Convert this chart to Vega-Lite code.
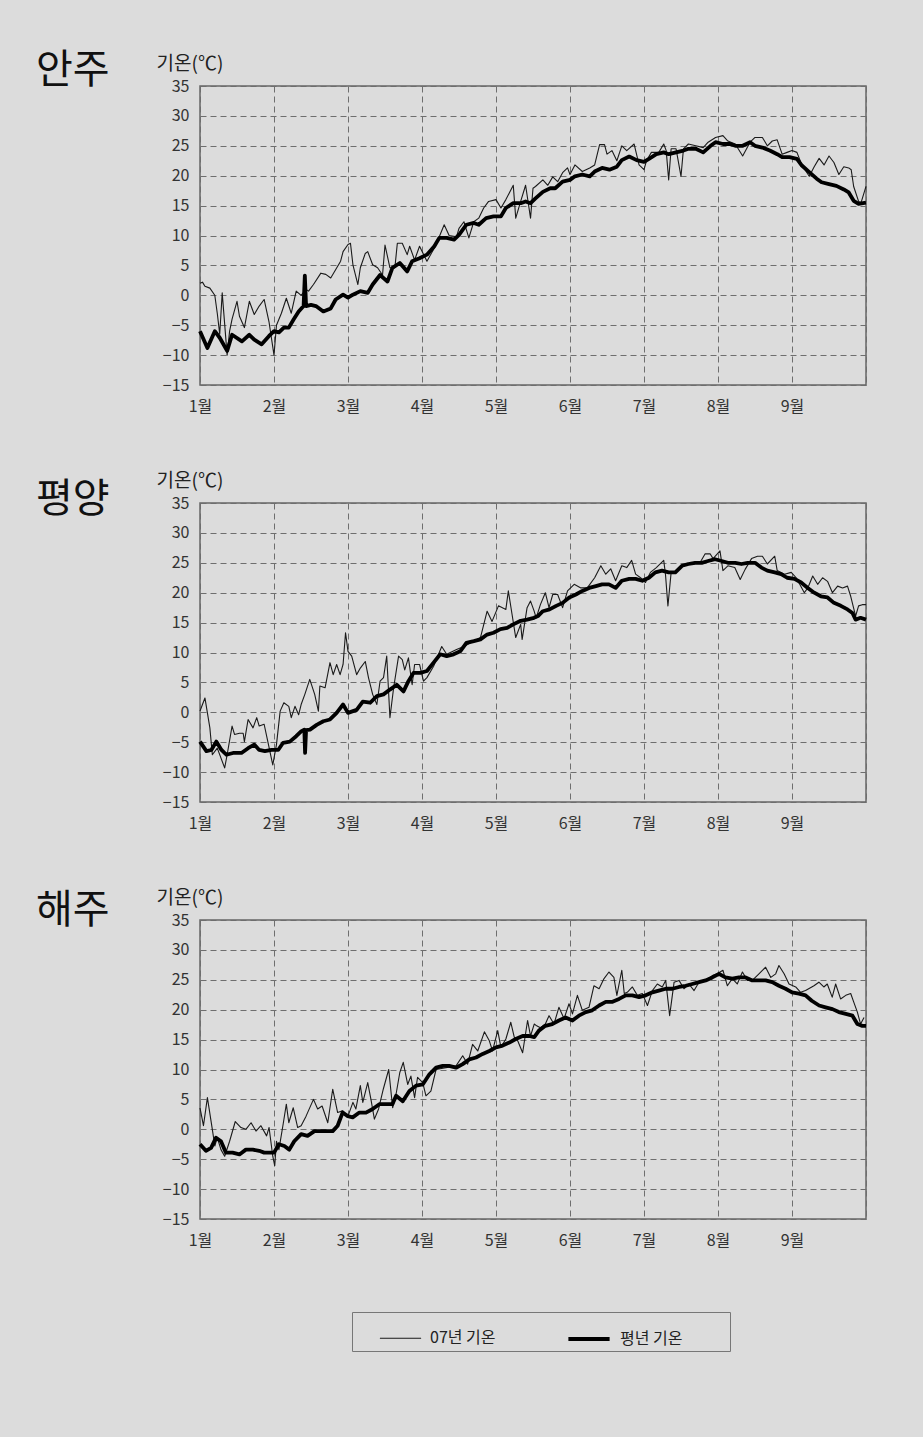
{
"$schema":"https://vega.github.io/schema/vega-lite/v6.json",
"background":"#dcdcdc",
"padding":{"left":35,"top":50,"right":58,"bottom":85},
"bounds":"flush",
"spacing":118,
"datasets":{"t":[
{"c":1,"s":"07년 기온","d":0,"t":2},{"c":1,"s":"07년 기온","d":1,"t":2.2},{"c":1,"s":"07년 기온","d":2,"t":1.5},{"c":1,"s":"07년 기온","d":4,"t":1.2},{"c":1,"s":"07년 기온","d":6,"t":0},{"c":1,"s":"07년 기온","d":7,"t":-3},{"c":1,"s":"07년 기온","d":8,"t":-6.5},{"c":1,"s":"07년 기온","d":9,"t":0.4},{"c":1,"s":"07년 기온","d":11,"t":-10},{"c":1,"s":"07년 기온","d":12,"t":-6},{"c":1,"s":"07년 기온","d":13,"t":-4},{"c":1,"s":"07년 기온","d":15,"t":-1},{"c":1,"s":"07년 기온","d":16,"t":-3.5},{"c":1,"s":"07년 기온","d":18,"t":-5.4},{"c":1,"s":"07년 기온","d":20,"t":-1},{"c":1,"s":"07년 기온","d":22,"t":-3.2},{"c":1,"s":"07년 기온","d":24,"t":-1.8},{"c":1,"s":"07년 기온","d":26,"t":-0.7},{"c":1,"s":"07년 기온","d":28,"t":-4.5},{"c":1,"s":"07년 기온","d":30,"t":-10},{"c":1,"s":"07년 기온","d":31,"t":-5},{"c":1,"s":"07년 기온","d":33,"t":-3},{"c":1,"s":"07년 기온","d":35,"t":-0.5},{"c":1,"s":"07년 기온","d":37,"t":-3},{"c":1,"s":"07년 기온","d":39,"t":0.7},{"c":1,"s":"07년 기온","d":41,"t":0},{"c":1,"s":"07년 기온","d":43,"t":1},{"c":1,"s":"07년 기온","d":44,"t":0.7},{"c":1,"s":"07년 기온","d":46,"t":1.8},{"c":1,"s":"07년 기온","d":49,"t":3.7},{"c":1,"s":"07년 기온","d":51,"t":3.5},{"c":1,"s":"07년 기온","d":53,"t":2.9},{"c":1,"s":"07년 기온","d":57,"t":5.7},{"c":1,"s":"07년 기온","d":58,"t":7.3},{"c":1,"s":"07년 기온","d":60,"t":8.5},{"c":1,"s":"07년 기온","d":61,"t":8.7},{"c":1,"s":"07년 기온","d":62,"t":5.1},{"c":1,"s":"07년 기온","d":64,"t":1.8},{"c":1,"s":"07년 기온","d":65,"t":4.6},{"c":1,"s":"07년 기온","d":67,"t":7},{"c":1,"s":"07년 기온","d":68,"t":7.3},{"c":1,"s":"07년 기온","d":70,"t":5.1},{"c":1,"s":"07년 기온","d":72,"t":4.6},{"c":1,"s":"07년 기온","d":74,"t":3.4},{"c":1,"s":"07년 기온","d":75,"t":8.4},{"c":1,"s":"07년 기온","d":77,"t":4.6},{"c":1,"s":"07년 기온","d":79,"t":4.6},{"c":1,"s":"07년 기온","d":80,"t":8.7},{"c":1,"s":"07년 기온","d":82,"t":8.7},{"c":1,"s":"07년 기온","d":84,"t":6.8},{"c":1,"s":"07년 기온","d":85,"t":8.2},{"c":1,"s":"07년 기온","d":87,"t":5.9},{"c":1,"s":"07년 기온","d":89,"t":8.2},{"c":1,"s":"07년 기온","d":92,"t":5.7},{"c":1,"s":"07년 기온","d":95,"t":7.9},{"c":1,"s":"07년 기온","d":97,"t":9.8},{"c":1,"s":"07년 기온","d":99,"t":11.8},{"c":1,"s":"07년 기온","d":101,"t":10},{"c":1,"s":"07년 기온","d":104,"t":9.8},{"c":1,"s":"07년 기온","d":105,"t":11.2},{"c":1,"s":"07년 기온","d":107,"t":12.3},{"c":1,"s":"07년 기온","d":109,"t":9.6},{"c":1,"s":"07년 기온","d":111,"t":12.3},{"c":1,"s":"07년 기온","d":113,"t":12.9},{"c":1,"s":"07년 기온","d":115,"t":14.6},{"c":1,"s":"07년 기온","d":117,"t":15.7},{"c":1,"s":"07년 기온","d":120,"t":16},{"c":1,"s":"07년 기온","d":122,"t":14.6},{"c":1,"s":"07년 기온","d":124,"t":16},{"c":1,"s":"07년 기온","d":127,"t":18.4},{"c":1,"s":"07년 기온","d":128,"t":12.9},{"c":1,"s":"07년 기온","d":130,"t":15.7},{"c":1,"s":"07년 기온","d":132,"t":18.4},{"c":1,"s":"07년 기온","d":134,"t":12.9},{"c":1,"s":"07년 기온","d":135,"t":17.9},{"c":1,"s":"07년 기온","d":136,"t":18.2},{"c":1,"s":"07년 기온","d":139,"t":19.3},{"c":1,"s":"07년 기온","d":141,"t":18.4},{"c":1,"s":"07년 기온","d":143,"t":19.8},{"c":1,"s":"07년 기온","d":145,"t":19},{"c":1,"s":"07년 기온","d":147,"t":20.5},{"c":1,"s":"07년 기온","d":149,"t":21.3},{"c":1,"s":"07년 기온","d":150,"t":20.2},{"c":1,"s":"07년 기온","d":152,"t":21.8},{"c":1,"s":"07년 기온","d":155,"t":20.7},{"c":1,"s":"07년 기온","d":158,"t":21.3},{"c":1,"s":"07년 기온","d":160,"t":21.8},{"c":1,"s":"07년 기온","d":162,"t":25.2},{"c":1,"s":"07년 기온","d":164,"t":25.2},{"c":1,"s":"07년 기온","d":165,"t":23.6},{"c":1,"s":"07년 기온","d":167,"t":24.2},{"c":1,"s":"07년 기온","d":169,"t":22.5},{"c":1,"s":"07년 기온","d":171,"t":25},{"c":1,"s":"07년 기온","d":173,"t":24.2},{"c":1,"s":"07년 기온","d":176,"t":25.3},{"c":1,"s":"07년 기온","d":178,"t":21.8},{"c":1,"s":"07년 기온","d":180,"t":21},{"c":1,"s":"07년 기온","d":181,"t":22.5},{"c":1,"s":"07년 기온","d":183,"t":23.9},{"c":1,"s":"07년 기온","d":186,"t":23.9},{"c":1,"s":"07년 기온","d":188,"t":25.3},{"c":1,"s":"07년 기온","d":189,"t":24.2},{"c":1,"s":"07년 기온","d":190,"t":19.3},{"c":1,"s":"07년 기온","d":191,"t":24.5},{"c":1,"s":"07년 기온","d":193,"t":24.5},{"c":1,"s":"07년 기온","d":195,"t":19.9},{"c":1,"s":"07년 기온","d":196,"t":24.5},{"c":1,"s":"07년 기온","d":198,"t":25.3},{"c":1,"s":"07년 기온","d":201,"t":25},{"c":1,"s":"07년 기온","d":204,"t":24.7},{"c":1,"s":"07년 기온","d":206,"t":25.6},{"c":1,"s":"07년 기온","d":209,"t":26.4},{"c":1,"s":"07년 기온","d":212,"t":26.7},{"c":1,"s":"07년 기온","d":214,"t":25.8},{"c":1,"s":"07년 기온","d":217,"t":25.3},{"c":1,"s":"07년 기온","d":220,"t":23.3},{"c":1,"s":"07년 기온","d":223,"t":25.6},{"c":1,"s":"07년 기온","d":225,"t":26.4},{"c":1,"s":"07년 기온","d":228,"t":26.4},{"c":1,"s":"07년 기온","d":230,"t":25},{"c":1,"s":"07년 기온","d":232,"t":25.8},{"c":1,"s":"07년 기온","d":234,"t":26},{"c":1,"s":"07년 기온","d":236,"t":23.6},{"c":1,"s":"07년 기온","d":238,"t":23.9},{"c":1,"s":"07년 기온","d":240,"t":24.2},{"c":1,"s":"07년 기온","d":242,"t":23.9},{"c":1,"s":"07년 기온","d":244,"t":21.8},{"c":1,"s":"07년 기온","d":247,"t":19.9},{"c":1,"s":"07년 기온","d":249,"t":21.5},{"c":1,"s":"07년 기온","d":251,"t":22.9},{"c":1,"s":"07년 기온","d":253,"t":21.8},{"c":1,"s":"07년 기온","d":255,"t":23.3},{"c":1,"s":"07년 기온","d":257,"t":22.2},{"c":1,"s":"07년 기온","d":259,"t":20.2},{"c":1,"s":"07년 기온","d":261,"t":21.5},{"c":1,"s":"07년 기온","d":263,"t":21.3},{"c":1,"s":"07년 기온","d":264,"t":21},{"c":1,"s":"07년 기온","d":265,"t":18.2},{"c":1,"s":"07년 기온","d":267,"t":15.7},{"c":1,"s":"07년 기온","d":268,"t":15.5},{"c":1,"s":"07년 기온","d":270,"t":18.2},
{"c":1,"s":"평년 기온","d":0,"t":-6},{"c":1,"s":"평년 기온","d":3,"t":-8.8},{"c":1,"s":"평년 기온","d":6,"t":-6},{"c":1,"s":"평년 기온","d":8,"t":-7.1},{"c":1,"s":"평년 기온","d":11,"t":-9.3},{"c":1,"s":"평년 기온","d":13,"t":-6.6},{"c":1,"s":"평년 기온","d":17,"t":-7.7},{"c":1,"s":"평년 기온","d":20,"t":-6.6},{"c":1,"s":"평년 기온","d":22,"t":-7.4},{"c":1,"s":"평년 기온","d":25,"t":-8.2},{"c":1,"s":"평년 기온","d":28,"t":-6.8},{"c":1,"s":"평년 기온","d":30,"t":-6},{"c":1,"s":"평년 기온","d":32,"t":-6.2},{"c":1,"s":"평년 기온","d":34,"t":-5.4},{"c":1,"s":"평년 기온","d":36,"t":-5.4},{"c":1,"s":"평년 기온","d":38,"t":-4},{"c":1,"s":"평년 기온","d":40,"t":-2.7},{"c":1,"s":"평년 기온","d":42,"t":-1.8},{"c":1,"s":"평년 기온","d":42.5,"t":3.3},{"c":1,"s":"평년 기온","d":43,"t":-1.8},{"c":1,"s":"평년 기온","d":45,"t":-1.6},{"c":1,"s":"평년 기온","d":47,"t":-1.8},{"c":1,"s":"평년 기온","d":50,"t":-2.7},{"c":1,"s":"평년 기온","d":53,"t":-2.2},{"c":1,"s":"평년 기온","d":55,"t":-0.7},{"c":1,"s":"평년 기온","d":58,"t":0.1},{"c":1,"s":"평년 기온","d":60,"t":-0.4},{"c":1,"s":"평년 기온","d":62,"t":0.1},{"c":1,"s":"평년 기온","d":65,"t":0.7},{"c":1,"s":"평년 기온","d":68,"t":0.4},{"c":1,"s":"평년 기온","d":70,"t":1.8},{"c":1,"s":"평년 기온","d":73,"t":3.4},{"c":1,"s":"평년 기온","d":76,"t":2.3},{"c":1,"s":"평년 기온","d":78,"t":4.6},{"c":1,"s":"평년 기온","d":81,"t":5.4},{"c":1,"s":"평년 기온","d":84,"t":4},{"c":1,"s":"평년 기온","d":86,"t":5.7},{"c":1,"s":"평년 기온","d":89,"t":6.2},{"c":1,"s":"평년 기온","d":92,"t":6.8},{"c":1,"s":"평년 기온","d":95,"t":8.2},{"c":1,"s":"평년 기온","d":97,"t":9.6},{"c":1,"s":"평년 기온","d":100,"t":9.6},{"c":1,"s":"평년 기온","d":103,"t":9.3},{"c":1,"s":"평년 기온","d":105,"t":10.1},{"c":1,"s":"평년 기온","d":108,"t":11.8},{"c":1,"s":"평년 기온","d":111,"t":12.1},{"c":1,"s":"평년 기온","d":113,"t":11.8},{"c":1,"s":"평년 기온","d":116,"t":12.9},{"c":1,"s":"평년 기온","d":119,"t":13.2},{"c":1,"s":"평년 기온","d":122,"t":13.2},{"c":1,"s":"평년 기온","d":124,"t":14.6},{"c":1,"s":"평년 기온","d":127,"t":15.4},{"c":1,"s":"평년 기온","d":130,"t":15.4},{"c":1,"s":"평년 기온","d":132,"t":15.7},{"c":1,"s":"평년 기온","d":134,"t":15.4},{"c":1,"s":"평년 기온","d":136,"t":16.2},{"c":1,"s":"평년 기온","d":139,"t":17.3},{"c":1,"s":"평년 기온","d":142,"t":17.9},{"c":1,"s":"평년 기온","d":144,"t":17.9},{"c":1,"s":"평년 기온","d":147,"t":19},{"c":1,"s":"평년 기온","d":150,"t":19.3},{"c":1,"s":"평년 기온","d":152,"t":19.9},{"c":1,"s":"평년 기온","d":155,"t":20.2},{"c":1,"s":"평년 기온","d":158,"t":19.9},{"c":1,"s":"평년 기온","d":160,"t":20.7},{"c":1,"s":"평년 기온","d":163,"t":21.3},{"c":1,"s":"평년 기온","d":166,"t":21},{"c":1,"s":"평년 기온","d":169,"t":21.5},{"c":1,"s":"평년 기온","d":171,"t":22.6},{"c":1,"s":"평년 기온","d":174,"t":23.2},{"c":1,"s":"평년 기온","d":177,"t":22.6},{"c":1,"s":"평년 기온","d":180,"t":22.3},{"c":1,"s":"평년 기온","d":182,"t":22.8},{"c":1,"s":"평년 기온","d":185,"t":23.6},{"c":1,"s":"평년 기온","d":188,"t":23.9},{"c":1,"s":"평년 기온","d":190,"t":23.6},{"c":1,"s":"평년 기온","d":193,"t":23.9},{"c":1,"s":"평년 기온","d":196,"t":24.2},{"c":1,"s":"평년 기온","d":198,"t":24.5},{"c":1,"s":"평년 기온","d":201,"t":24.5},{"c":1,"s":"평년 기온","d":204,"t":23.9},{"c":1,"s":"평년 기온","d":207,"t":25},{"c":1,"s":"평년 기온","d":209,"t":25.6},{"c":1,"s":"평년 기온","d":212,"t":25.3},{"c":1,"s":"평년 기온","d":215,"t":25.3},{"c":1,"s":"평년 기온","d":217,"t":25},{"c":1,"s":"평년 기온","d":220,"t":25},{"c":1,"s":"평년 기온","d":223,"t":25.6},{"c":1,"s":"평년 기온","d":225,"t":25},{"c":1,"s":"평년 기온","d":228,"t":24.7},{"c":1,"s":"평년 기온","d":231,"t":24.2},{"c":1,"s":"평년 기온","d":234,"t":23.6},{"c":1,"s":"평년 기온","d":236,"t":23.1},{"c":1,"s":"평년 기온","d":239,"t":23.1},{"c":1,"s":"평년 기온","d":242,"t":22.8},{"c":1,"s":"평년 기온","d":244,"t":21.7},{"c":1,"s":"평년 기온","d":247,"t":20.6},{"c":1,"s":"평년 기온","d":250,"t":19.5},{"c":1,"s":"평년 기온","d":252,"t":18.9},{"c":1,"s":"평년 기온","d":255,"t":18.6},{"c":1,"s":"평년 기온","d":258,"t":18.3},{"c":1,"s":"평년 기온","d":261,"t":17.7},{"c":1,"s":"평년 기온","d":263,"t":17.2},{"c":1,"s":"평년 기온","d":265,"t":15.8},{"c":1,"s":"평년 기온","d":267,"t":15.3},{"c":1,"s":"평년 기온","d":270,"t":15.5},
{"c":2,"s":"07년 기온","d":0,"t":0.2},{"c":2,"s":"07년 기온","d":1,"t":1.3},{"c":2,"s":"07년 기온","d":2,"t":2.4},{"c":2,"s":"07년 기온","d":4,"t":-2.6},{"c":2,"s":"07년 기온","d":5,"t":-7.1},{"c":2,"s":"07년 기온","d":7,"t":-6},{"c":2,"s":"07년 기온","d":10,"t":-9.3},{"c":2,"s":"07년 기온","d":11,"t":-7.1},{"c":2,"s":"07년 기온","d":13,"t":-2.3},{"c":2,"s":"07년 기온","d":14,"t":-3.7},{"c":2,"s":"07년 기온","d":16,"t":-3.5},{"c":2,"s":"07년 기온","d":17.5,"t":-3.5},{"c":2,"s":"07년 기온","d":18,"t":-4.9},{"c":2,"s":"07년 기온","d":19.5,"t":-1.2},{"c":2,"s":"07년 기온","d":21.5,"t":-2.6},{"c":2,"s":"07년 기온","d":23,"t":-0.9},{"c":2,"s":"07년 기온","d":24,"t":-2.3},{"c":2,"s":"07년 기온","d":26,"t":-2},{"c":2,"s":"07년 기온","d":27.5,"t":-4.9},{"c":2,"s":"07년 기온","d":29.5,"t":-8.8},{"c":2,"s":"07년 기온","d":31,"t":-5.4},{"c":2,"s":"07년 기온","d":32.5,"t":0.2},{"c":2,"s":"07년 기온","d":34,"t":1.6},{"c":2,"s":"07년 기온","d":36,"t":1},{"c":2,"s":"07년 기온","d":37,"t":-0.9},{"c":2,"s":"07년 기온","d":38.5,"t":1},{"c":2,"s":"07년 기온","d":40,"t":-0.4},{"c":2,"s":"07년 기온","d":41,"t":1.3},{"c":2,"s":"07년 기온","d":42.5,"t":3},{"c":2,"s":"07년 기온","d":44.5,"t":5.5},{"c":2,"s":"07년 기온","d":46.5,"t":3},{"c":2,"s":"07년 기온","d":48,"t":0.2},{"c":2,"s":"07년 기온","d":48.6,"t":4.4},{"c":2,"s":"07년 기온","d":50.7,"t":4.1},{"c":2,"s":"07년 기온","d":52.7,"t":8.3},{"c":2,"s":"07년 기온","d":54,"t":6.3},{"c":2,"s":"07년 기온","d":55.4,"t":8},{"c":2,"s":"07년 기온","d":56.8,"t":6.3},{"c":2,"s":"07년 기온","d":58,"t":8},{"c":2,"s":"07년 기온","d":59,"t":13.3},{"c":2,"s":"07년 기온","d":60,"t":10.2},{"c":2,"s":"07년 기온","d":61.5,"t":9.4},{"c":2,"s":"07년 기온","d":63.5,"t":6.3},{"c":2,"s":"07년 기온","d":65,"t":7.4},{"c":2,"s":"07년 기온","d":67,"t":8.5},{"c":2,"s":"07년 기온","d":68.3,"t":5.8},{"c":2,"s":"07년 기온","d":70,"t":3},{"c":2,"s":"07년 기온","d":71.7,"t":1.3},{"c":2,"s":"07년 기온","d":73,"t":5.2},{"c":2,"s":"07년 기온","d":74.4,"t":5.8},{"c":2,"s":"07년 기온","d":75.7,"t":9.4},{"c":2,"s":"07년 기온","d":77,"t":-0.9},{"c":2,"s":"07년 기온","d":78.5,"t":4.1},{"c":2,"s":"07년 기온","d":80.5,"t":9.4},{"c":2,"s":"07년 기온","d":82,"t":8.8},{"c":2,"s":"07년 기온","d":83,"t":7.1},{"c":2,"s":"07년 기온","d":84.5,"t":9.1},{"c":2,"s":"07년 기온","d":86,"t":4.6},{"c":2,"s":"07년 기온","d":87,"t":8},{"c":2,"s":"07년 기온","d":89,"t":8},{"c":2,"s":"07년 기온","d":90.6,"t":5.2},{"c":2,"s":"07년 기온","d":92,"t":5.8},{"c":2,"s":"07년 기온","d":94.7,"t":7.7},{"c":2,"s":"07년 기온","d":98,"t":11},{"c":2,"s":"07년 기온","d":100,"t":9.7},{"c":2,"s":"07년 기온","d":104,"t":10.5},{"c":2,"s":"07년 기온","d":107,"t":11},{"c":2,"s":"07년 기온","d":111,"t":11.9},{"c":2,"s":"07년 기온","d":113.7,"t":12.5},{"c":2,"s":"07년 기온","d":116.4,"t":16.9},{"c":2,"s":"07년 기온","d":118.4,"t":15.2},{"c":2,"s":"07년 기온","d":121,"t":17.8},{"c":2,"s":"07년 기온","d":124,"t":17.2},{"c":2,"s":"07년 기온","d":125,"t":20.3},{"c":2,"s":"07년 기온","d":126.5,"t":16.4},{"c":2,"s":"07년 기온","d":128,"t":12.5},{"c":2,"s":"07년 기온","d":130,"t":14.7},{"c":2,"s":"07년 기온","d":130.6,"t":12.2},{"c":2,"s":"07년 기온","d":132.6,"t":17.5},{"c":2,"s":"07년 기온","d":134,"t":18.6},{"c":2,"s":"07년 기온","d":135.4,"t":17},{"c":2,"s":"07년 기온","d":136.3,"t":15.8},{"c":2,"s":"07년 기온","d":138,"t":18},{"c":2,"s":"07년 기온","d":140,"t":20},{"c":2,"s":"07년 기온","d":141.5,"t":17.5},{"c":2,"s":"07년 기온","d":143,"t":19.7},{"c":2,"s":"07년 기온","d":145,"t":19.7},{"c":2,"s":"07년 기온","d":147,"t":17.5},{"c":2,"s":"07년 기온","d":149,"t":20.3},{"c":2,"s":"07년 기온","d":151.7,"t":21.4},{"c":2,"s":"07년 기온","d":154.4,"t":20.8},{"c":2,"s":"07년 기온","d":157,"t":20.8},{"c":2,"s":"07년 기온","d":160,"t":22.5},{"c":2,"s":"07년 기온","d":162.5,"t":24.5},{"c":2,"s":"07년 기온","d":164.5,"t":23.1},{"c":2,"s":"07년 기온","d":166.5,"t":24},{"c":2,"s":"07년 기온","d":168.5,"t":22},{"c":2,"s":"07년 기온","d":171,"t":24.5},{"c":2,"s":"07년 기온","d":173,"t":24.2},{"c":2,"s":"07년 기온","d":175,"t":25.4},{"c":2,"s":"07년 기온","d":176.6,"t":23.1},{"c":2,"s":"07년 기온","d":178.6,"t":22.5},{"c":2,"s":"07년 기온","d":180.6,"t":21.7},{"c":2,"s":"07년 기온","d":182.6,"t":23.4},{"c":2,"s":"07년 기온","d":185,"t":24.2},{"c":2,"s":"07년 기온","d":188,"t":25.4},{"c":2,"s":"07년 기온","d":188.7,"t":23.1},{"c":2,"s":"07년 기온","d":189.7,"t":17.8},{"c":2,"s":"07년 기온","d":191,"t":23.4},{"c":2,"s":"07년 기온","d":192.7,"t":23.4},{"c":2,"s":"07년 기온","d":194.7,"t":24.2},{"c":2,"s":"07년 기온","d":197.4,"t":24.8},{"c":2,"s":"07년 기온","d":200,"t":24.8},{"c":2,"s":"07년 기온","d":202.8,"t":25.1},{"c":2,"s":"07년 기온","d":204.8,"t":26.5},{"c":2,"s":"07년 기온","d":206.8,"t":26.5},{"c":2,"s":"07년 기온","d":208,"t":25.7},{"c":2,"s":"07년 기온","d":210.8,"t":27},{"c":2,"s":"07년 기온","d":212,"t":23.7},{"c":2,"s":"07년 기온","d":214,"t":24.5},{"c":2,"s":"07년 기온","d":216.8,"t":24.2},{"c":2,"s":"07년 기온","d":219,"t":22.2},{"c":2,"s":"07년 기온","d":221,"t":23.9},{"c":2,"s":"07년 기온","d":223.6,"t":25.7},{"c":2,"s":"07년 기온","d":226,"t":26.1},{"c":2,"s":"07년 기온","d":228,"t":26.1},{"c":2,"s":"07년 기온","d":230,"t":24.8},{"c":2,"s":"07년 기온","d":233,"t":26.1},{"c":2,"s":"07년 기온","d":234,"t":23.7},{"c":2,"s":"07년 기온","d":237,"t":23.1},{"c":2,"s":"07년 기온","d":239.7,"t":23.4},{"c":2,"s":"07년 기온","d":241.7,"t":22.5},{"c":2,"s":"07년 기온","d":245,"t":20},{"c":2,"s":"07년 기온","d":246.4,"t":20.8},{"c":2,"s":"07년 기온","d":248.4,"t":22.8},{"c":2,"s":"07년 기온","d":250.4,"t":21.4},{"c":2,"s":"07년 기온","d":252.4,"t":22.5},{"c":2,"s":"07년 기온","d":254.4,"t":21.9},{"c":2,"s":"07년 기온","d":256.4,"t":20},{"c":2,"s":"07년 기온","d":258.5,"t":21.1},{"c":2,"s":"07년 기온","d":260.5,"t":20.8},{"c":2,"s":"07년 기온","d":262.5,"t":21.1},{"c":2,"s":"07년 기온","d":263.8,"t":19.4},{"c":2,"s":"07년 기온","d":265.8,"t":16.1},{"c":2,"s":"07년 기온","d":267,"t":17.8},{"c":2,"s":"07년 기온","d":268.5,"t":18},{"c":2,"s":"07년 기온","d":270,"t":18},
{"c":2,"s":"평년 기온","d":0,"t":-4.9},{"c":2,"s":"평년 기온","d":2.6,"t":-6.5},{"c":2,"s":"평년 기온","d":4.6,"t":-6.3},{"c":2,"s":"평년 기온","d":6.6,"t":-4.9},{"c":2,"s":"평년 기온","d":8.7,"t":-6.3},{"c":2,"s":"평년 기온","d":10.7,"t":-7.1},{"c":2,"s":"평년 기온","d":13.4,"t":-6.8},{"c":2,"s":"평년 기온","d":16.8,"t":-6.8},{"c":2,"s":"평년 기온","d":19.5,"t":-6},{"c":2,"s":"평년 기온","d":22,"t":-5.4},{"c":2,"s":"평년 기온","d":24,"t":-6.3},{"c":2,"s":"평년 기온","d":26.3,"t":-6.5},{"c":2,"s":"평년 기온","d":29,"t":-6.3},{"c":2,"s":"평년 기온","d":31.7,"t":-6.3},{"c":2,"s":"평년 기온","d":33.7,"t":-5.1},{"c":2,"s":"평년 기온","d":36.4,"t":-4.9},{"c":2,"s":"평년 기온","d":39,"t":-4},{"c":2,"s":"평년 기온","d":41,"t":-3.2},{"c":2,"s":"평년 기온","d":42.3,"t":-2.9},{"c":2,"s":"평년 기온","d":42.6,"t":-6.8},{"c":2,"s":"평년 기온","d":43,"t":-3},{"c":2,"s":"평년 기온","d":44.6,"t":-2.9},{"c":2,"s":"평년 기온","d":47.3,"t":-2.1},{"c":2,"s":"평년 기온","d":50,"t":-1.5},{"c":2,"s":"평년 기온","d":52.7,"t":-1.2},{"c":2,"s":"평년 기온","d":55.4,"t":-0.1},{"c":2,"s":"평년 기온","d":58,"t":1.3},{"c":2,"s":"평년 기온","d":60,"t":-0.1},{"c":2,"s":"평년 기온","d":63.5,"t":0.4},{"c":2,"s":"평년 기온","d":66,"t":1.8},{"c":2,"s":"평년 기온","d":69,"t":1.6},{"c":2,"s":"평년 기온","d":71.7,"t":2.7},{"c":2,"s":"평년 기온","d":74.4,"t":3},{"c":2,"s":"평년 기온","d":77,"t":3.8},{"c":2,"s":"평년 기온","d":79.8,"t":4.6},{"c":2,"s":"평년 기온","d":82.5,"t":3.5},{"c":2,"s":"평년 기온","d":84.5,"t":5.2},{"c":2,"s":"평년 기온","d":86.6,"t":6.6},{"c":2,"s":"평년 기온","d":89.3,"t":6.6},{"c":2,"s":"평년 기온","d":92,"t":6.9},{"c":2,"s":"평년 기온","d":94.7,"t":8.3},{"c":2,"s":"평년 기온","d":97.4,"t":9.7},{"c":2,"s":"평년 기온","d":100,"t":9.4},{"c":2,"s":"평년 기온","d":102.8,"t":9.7},{"c":2,"s":"평년 기온","d":105.5,"t":10.2},{"c":2,"s":"평년 기온","d":108,"t":11.6},{"c":2,"s":"평년 기온","d":111,"t":11.9},{"c":2,"s":"평년 기온","d":113.7,"t":12.2},{"c":2,"s":"평년 기온","d":116.4,"t":13},{"c":2,"s":"평년 기온","d":119,"t":13.3},{"c":2,"s":"평년 기온","d":121.8,"t":13.9},{"c":2,"s":"평년 기온","d":124.5,"t":14.1},{"c":2,"s":"평년 기온","d":127,"t":14.7},{"c":2,"s":"평년 기온","d":130,"t":15.3},{"c":2,"s":"평년 기온","d":132.6,"t":15.5},{"c":2,"s":"평년 기온","d":135.4,"t":15.8},{"c":2,"s":"평년 기온","d":137,"t":16.1},{"c":2,"s":"평년 기온","d":139,"t":16.9},{"c":2,"s":"평년 기온","d":141.7,"t":17.2},{"c":2,"s":"평년 기온","d":144.4,"t":17.8},{"c":2,"s":"평년 기온","d":147,"t":18.3},{"c":2,"s":"평년 기온","d":149.7,"t":19.2},{"c":2,"s":"평년 기온","d":152.4,"t":19.7},{"c":2,"s":"평년 기온","d":155,"t":20.3},{"c":2,"s":"평년 기온","d":157.8,"t":20.8},{"c":2,"s":"평년 기온","d":160.5,"t":21.1},{"c":2,"s":"평년 기온","d":163,"t":21.4},{"c":2,"s":"평년 기온","d":165.8,"t":21.4},{"c":2,"s":"평년 기온","d":168.5,"t":20.8},{"c":2,"s":"평년 기온","d":171,"t":22},{"c":2,"s":"평년 기온","d":174,"t":22.3},{"c":2,"s":"평년 기온","d":176.6,"t":22.3},{"c":2,"s":"평년 기온","d":179.3,"t":22},{"c":2,"s":"평년 기온","d":182,"t":22.5},{"c":2,"s":"평년 기온","d":184.6,"t":23.4},{"c":2,"s":"평년 기온","d":187.3,"t":23.7},{"c":2,"s":"평년 기온","d":190,"t":23.4},{"c":2,"s":"평년 기온","d":192.7,"t":23.4},{"c":2,"s":"평년 기온","d":195.4,"t":24.5},{"c":2,"s":"평년 기온","d":198,"t":24.8},{"c":2,"s":"평년 기온","d":200.7,"t":25},{"c":2,"s":"평년 기온","d":203.4,"t":25},{"c":2,"s":"평년 기온","d":206,"t":25.3},{"c":2,"s":"평년 기온","d":208.8,"t":25.6},{"c":2,"s":"평년 기온","d":211.5,"t":25.3},{"c":2,"s":"평년 기온","d":214,"t":25},{"c":2,"s":"평년 기온","d":217,"t":25},{"c":2,"s":"평년 기온","d":219.5,"t":24.8},{"c":2,"s":"평년 기온","d":222,"t":25},{"c":2,"s":"평년 기온","d":225,"t":25},{"c":2,"s":"평년 기온","d":227.6,"t":24.2},{"c":2,"s":"평년 기온","d":230,"t":23.7},{"c":2,"s":"평년 기온","d":233,"t":23.4},{"c":2,"s":"평년 기온","d":235.6,"t":23.1},{"c":2,"s":"평년 기온","d":238,"t":22.5},{"c":2,"s":"평년 기온","d":241,"t":22.3},{"c":2,"s":"평년 기온","d":243.7,"t":21.7},{"c":2,"s":"평년 기온","d":246.4,"t":20.8},{"c":2,"s":"평년 기온","d":249,"t":20},{"c":2,"s":"평년 기온","d":251.7,"t":19.4},{"c":2,"s":"평년 기온","d":254.4,"t":19.2},{"c":2,"s":"평년 기온","d":257,"t":18.3},{"c":2,"s":"평년 기온","d":259.8,"t":17.8},{"c":2,"s":"평년 기온","d":262.5,"t":17.2},{"c":2,"s":"평년 기온","d":264.5,"t":16.6},{"c":2,"s":"평년 기온","d":265.8,"t":15.5},{"c":2,"s":"평년 기온","d":267.8,"t":15.8},{"c":2,"s":"평년 기온","d":270,"t":15.5},
{"c":3,"s":"07년 기온","d":0,"t":3.6},{"c":3,"s":"07년 기온","d":1.4,"t":0.6},{"c":3,"s":"07년 기온","d":3,"t":5.3},{"c":3,"s":"07년 기온","d":5,"t":0},{"c":3,"s":"07년 기온","d":6,"t":-2.8},{"c":3,"s":"07년 기온","d":7,"t":-1.4},{"c":3,"s":"07년 기온","d":8.5,"t":-3.4},{"c":3,"s":"07년 기온","d":10,"t":-4.5},{"c":3,"s":"07년 기온","d":12,"t":-2},{"c":3,"s":"07년 기온","d":14.3,"t":1.3},{"c":3,"s":"07년 기온","d":16.6,"t":0.3},{"c":3,"s":"07년 기온","d":18.6,"t":0},{"c":3,"s":"07년 기온","d":20.7,"t":1.1},{"c":3,"s":"07년 기온","d":22.7,"t":-0.3},{"c":3,"s":"07년 기온","d":24.7,"t":0.6},{"c":3,"s":"07년 기온","d":27,"t":-1.1},{"c":3,"s":"07년 기온","d":28,"t":0.3},{"c":3,"s":"07년 기온","d":29.5,"t":-4.5},{"c":3,"s":"07년 기온","d":30.3,"t":-6.1},{"c":3,"s":"07년 기온","d":31,"t":-2},{"c":3,"s":"07년 기온","d":32,"t":-3.4},{"c":3,"s":"07년 기온","d":33.8,"t":1.1},{"c":3,"s":"07년 기온","d":35,"t":4.2},{"c":3,"s":"07년 기온","d":36,"t":1.1},{"c":3,"s":"07년 기온","d":37.8,"t":3.6},{"c":3,"s":"07년 기온","d":39.6,"t":0.3},{"c":3,"s":"07년 기온","d":41,"t":0.6},{"c":3,"s":"07년 기온","d":43,"t":2.2},{"c":3,"s":"07년 기온","d":46,"t":5},{"c":3,"s":"07년 기온","d":47.7,"t":3.4},{"c":3,"s":"07년 기온","d":49.5,"t":3.9},{"c":3,"s":"07년 기온","d":51.8,"t":1.1},{"c":3,"s":"07년 기온","d":53.8,"t":6.7},{"c":3,"s":"07년 기온","d":55.8,"t":2.8},{"c":3,"s":"07년 기온","d":57.8,"t":3.1},{"c":3,"s":"07년 기온","d":60,"t":2.2},{"c":3,"s":"07년 기온","d":62,"t":4.5},{"c":3,"s":"07년 기온","d":63.2,"t":3.4},{"c":3,"s":"07년 기온","d":65,"t":7.3},{"c":3,"s":"07년 기온","d":66,"t":4.5},{"c":3,"s":"07년 기온","d":68,"t":7.8},{"c":3,"s":"07년 기온","d":69.3,"t":5},{"c":3,"s":"07년 기온","d":70.7,"t":1.7},{"c":3,"s":"07년 기온","d":72.4,"t":3.4},{"c":3,"s":"07년 기온","d":74.3,"t":6.7},{"c":3,"s":"07년 기온","d":76.5,"t":10},{"c":3,"s":"07년 기온","d":78.1,"t":3.6},{"c":3,"s":"07년 기온","d":79.5,"t":5.9},{"c":3,"s":"07년 기온","d":81,"t":9.5},{"c":3,"s":"07년 기온","d":82.4,"t":11.2},{"c":3,"s":"07년 기온","d":84.2,"t":7.5},{"c":3,"s":"07년 기온","d":85.5,"t":8.9},{"c":3,"s":"07년 기온","d":87,"t":5.3},{"c":3,"s":"07년 기온","d":88.2,"t":8.7},{"c":3,"s":"07년 기온","d":90.3,"t":7.8},{"c":3,"s":"07년 기온","d":91.6,"t":5.6},{"c":3,"s":"07년 기온","d":93.6,"t":6.4},{"c":3,"s":"07년 기온","d":95.7,"t":10},{"c":3,"s":"07년 기온","d":99.7,"t":10.3},{"c":3,"s":"07년 기온","d":103.8,"t":10.6},{"c":3,"s":"07년 기온","d":106.5,"t":12.3},{"c":3,"s":"07년 기온","d":108.5,"t":10.9},{"c":3,"s":"07년 기온","d":110.5,"t":14.2},{"c":3,"s":"07년 기온","d":112.6,"t":13.1},{"c":3,"s":"07년 기온","d":115.3,"t":16.3},{"c":3,"s":"07년 기온","d":117.3,"t":14.8},{"c":3,"s":"07년 기온","d":118.6,"t":13.1},{"c":3,"s":"07년 기온","d":120.7,"t":16.5},{"c":3,"s":"07년 기온","d":122,"t":13.7},{"c":3,"s":"07년 기온","d":124,"t":15.1},{"c":3,"s":"07년 기온","d":126,"t":17.9},{"c":3,"s":"07년 기온","d":127.4,"t":15.4},{"c":3,"s":"07년 기온","d":128.8,"t":14.8},{"c":3,"s":"07년 기온","d":130.8,"t":12.8},{"c":3,"s":"07년 기온","d":132.8,"t":18.2},{"c":3,"s":"07년 기온","d":134,"t":15.6},{"c":3,"s":"07년 기온","d":135.5,"t":17.6},{"c":3,"s":"07년 기온","d":136.5,"t":17.3},{"c":3,"s":"07년 기온","d":138,"t":17},{"c":3,"s":"07년 기온","d":140,"t":17.6},{"c":3,"s":"07년 기온","d":141.5,"t":19},{"c":3,"s":"07년 기온","d":143.5,"t":17.6},{"c":3,"s":"07년 기온","d":145.5,"t":20.4},{"c":3,"s":"07년 기온","d":147.6,"t":18.5},{"c":3,"s":"07년 기온","d":149.6,"t":21},{"c":3,"s":"07년 기온","d":151,"t":19.3},{"c":3,"s":"07년 기온","d":153,"t":22.4},{"c":3,"s":"07년 기온","d":155,"t":19.9},{"c":3,"s":"07년 기온","d":157.7,"t":20.4},{"c":3,"s":"07년 기온","d":159.7,"t":24},{"c":3,"s":"07년 기온","d":161.8,"t":23.5},{"c":3,"s":"07년 기온","d":163.8,"t":25.2},{"c":3,"s":"07년 기온","d":165.8,"t":26.3},{"c":3,"s":"07년 기온","d":167.8,"t":25.4},{"c":3,"s":"07년 기온","d":169,"t":22.4},{"c":3,"s":"07년 기온","d":171,"t":26.6},{"c":3,"s":"07년 기온","d":172,"t":22.7},{"c":3,"s":"07년 기온","d":173.2,"t":22.9},{"c":3,"s":"07년 기온","d":175.3,"t":23.8},{"c":3,"s":"07년 기온","d":177.3,"t":22.4},{"c":3,"s":"07년 기온","d":179.3,"t":22.7},{"c":3,"s":"07년 기온","d":181.4,"t":20.7},{"c":3,"s":"07년 기온","d":183.4,"t":23.2},{"c":3,"s":"07년 기온","d":185.4,"t":24.3},{"c":3,"s":"07년 기온","d":187.4,"t":23.8},{"c":3,"s":"07년 기온","d":188.8,"t":24.9},{"c":3,"s":"07년 기온","d":190.4,"t":19},{"c":3,"s":"07년 기온","d":192.2,"t":24.6},{"c":3,"s":"07년 기온","d":194.2,"t":24.9},{"c":3,"s":"07년 기온","d":196.2,"t":23.5},{"c":3,"s":"07년 기온","d":198.2,"t":24.3},{"c":3,"s":"07년 기온","d":200.3,"t":23.2},{"c":3,"s":"07년 기온","d":202.3,"t":24.6},{"c":3,"s":"07년 기온","d":205,"t":24.9},{"c":3,"s":"07년 기온","d":207.7,"t":25.7},{"c":3,"s":"07년 기온","d":209.7,"t":26},{"c":3,"s":"07년 기온","d":212,"t":26.6},{"c":3,"s":"07년 기온","d":213.8,"t":24},{"c":3,"s":"07년 기온","d":215.8,"t":25.2},{"c":3,"s":"07년 기온","d":217.8,"t":24.3},{"c":3,"s":"07년 기온","d":219.9,"t":26.3},{"c":3,"s":"07년 기온","d":221.9,"t":24.9},{"c":3,"s":"07년 기온","d":223.9,"t":24.9},{"c":3,"s":"07년 기온","d":226.6,"t":26},{"c":3,"s":"07년 기온","d":229.3,"t":27.1},{"c":3,"s":"07년 기온","d":231.4,"t":25.4},{"c":3,"s":"07년 기온","d":233.4,"t":26},{"c":3,"s":"07년 기온","d":234.7,"t":27.4},{"c":3,"s":"07년 기온","d":236.8,"t":26},{"c":3,"s":"07년 기온","d":238.8,"t":24.3},{"c":3,"s":"07년 기온","d":241.5,"t":23.8},{"c":3,"s":"07년 기온","d":243.5,"t":22.9},{"c":3,"s":"07년 기온","d":245.5,"t":23.2},{"c":3,"s":"07년 기온","d":248.9,"t":24},{"c":3,"s":"07년 기온","d":250.9,"t":24.6},{"c":3,"s":"07년 기온","d":252.9,"t":23.8},{"c":3,"s":"07년 기온","d":254.3,"t":24.3},{"c":3,"s":"07년 기온","d":256.3,"t":22.1},{"c":3,"s":"07년 기온","d":257.7,"t":24.3},{"c":3,"s":"07년 기온","d":259.7,"t":21.8},{"c":3,"s":"07년 기온","d":261.8,"t":22.4},{"c":3,"s":"07년 기온","d":263.8,"t":22.7},{"c":3,"s":"07년 기온","d":265,"t":21.3},{"c":3,"s":"07년 기온","d":266.5,"t":19.6},{"c":3,"s":"07년 기온","d":267.8,"t":17.6},{"c":3,"s":"07년 기온","d":269.2,"t":18.7},
{"c":3,"s":"평년 기온","d":0,"t":-2.5},{"c":3,"s":"평년 기온","d":2.4,"t":-3.6},{"c":3,"s":"평년 기온","d":4.5,"t":-3.1},{"c":3,"s":"평년 기온","d":6.5,"t":-1.4},{"c":3,"s":"평년 기온","d":8.5,"t":-2},{"c":3,"s":"평년 기온","d":10.5,"t":-3.9},{"c":3,"s":"평년 기온","d":13.2,"t":-3.9},{"c":3,"s":"평년 기온","d":16,"t":-4.2},{"c":3,"s":"평년 기온","d":18.6,"t":-3.4},{"c":3,"s":"평년 기온","d":21.4,"t":-3.4},{"c":3,"s":"평년 기온","d":24,"t":-3.6},{"c":3,"s":"평년 기온","d":26,"t":-3.9},{"c":3,"s":"평년 기온","d":28,"t":-3.9},{"c":3,"s":"평년 기온","d":30,"t":-3.9},{"c":3,"s":"평년 기온","d":32,"t":-2.5},{"c":3,"s":"평년 기온","d":34.2,"t":-2.8},{"c":3,"s":"평년 기온","d":36.2,"t":-3.4},{"c":3,"s":"평년 기온","d":38.2,"t":-2},{"c":3,"s":"평년 기온","d":41,"t":-0.8},{"c":3,"s":"평년 기온","d":43.6,"t":-1.1},{"c":3,"s":"평년 기온","d":46.4,"t":-0.3},{"c":3,"s":"평년 기온","d":49,"t":-0.3},{"c":3,"s":"평년 기온","d":51.8,"t":-0.3},{"c":3,"s":"평년 기온","d":53.8,"t":-0.3},{"c":3,"s":"평년 기온","d":55.8,"t":0.6},{"c":3,"s":"평년 기온","d":57.8,"t":2.8},{"c":3,"s":"평년 기온","d":59.9,"t":2.2},{"c":3,"s":"평년 기온","d":61.9,"t":2},{"c":3,"s":"평년 기온","d":64.6,"t":2.8},{"c":3,"s":"평년 기온","d":67.3,"t":2.8},{"c":3,"s":"평년 기온","d":70,"t":3.4},{"c":3,"s":"평년 기온","d":72.7,"t":4.2},{"c":3,"s":"평년 기온","d":75.4,"t":4.2},{"c":3,"s":"평년 기온","d":78,"t":4.2},{"c":3,"s":"평년 기온","d":79.5,"t":5.6},{"c":3,"s":"평년 기온","d":82.2,"t":4.7},{"c":3,"s":"평년 기온","d":84.9,"t":6.4},{"c":3,"s":"평년 기온","d":87.6,"t":7.3},{"c":3,"s":"평년 기온","d":90.3,"t":7.5},{"c":3,"s":"평년 기온","d":93,"t":9.2},{"c":3,"s":"평년 기온","d":95.7,"t":10.3},{"c":3,"s":"평년 기온","d":98.4,"t":10.6},{"c":3,"s":"평년 기온","d":101,"t":10.6},{"c":3,"s":"평년 기온","d":103.8,"t":10.3},{"c":3,"s":"평년 기온","d":106.5,"t":10.9},{"c":3,"s":"평년 기온","d":109.2,"t":11.7},{"c":3,"s":"평년 기온","d":111.9,"t":12},{"c":3,"s":"평년 기온","d":114.6,"t":12.6},{"c":3,"s":"평년 기온","d":117.3,"t":13.1},{"c":3,"s":"평년 기온","d":120,"t":13.7},{"c":3,"s":"평년 기온","d":122.7,"t":14},{"c":3,"s":"평년 기온","d":125.4,"t":14.5},{"c":3,"s":"평년 기온","d":128,"t":15.1},{"c":3,"s":"평년 기온","d":130.8,"t":15.6},{"c":3,"s":"평년 기온","d":133.5,"t":15.6},{"c":3,"s":"평년 기온","d":135.5,"t":15.4},{"c":3,"s":"평년 기온","d":137.4,"t":16.5},{"c":3,"s":"평년 기온","d":140,"t":17.3},{"c":3,"s":"평년 기온","d":142.8,"t":17.6},{"c":3,"s":"평년 기온","d":145.5,"t":18.2},{"c":3,"s":"평년 기온","d":148.2,"t":18.7},{"c":3,"s":"평년 기온","d":151,"t":18.2},{"c":3,"s":"평년 기온","d":153.6,"t":19},{"c":3,"s":"평년 기온","d":156.4,"t":19.6},{"c":3,"s":"평년 기온","d":159,"t":19.9},{"c":3,"s":"평년 기온","d":161.8,"t":20.7},{"c":3,"s":"평년 기온","d":164.5,"t":21.3},{"c":3,"s":"평년 기온","d":167,"t":21.3},{"c":3,"s":"평년 기온","d":169.9,"t":21.8},{"c":3,"s":"평년 기온","d":172.6,"t":22.4},{"c":3,"s":"평년 기온","d":175.3,"t":22.4},{"c":3,"s":"평년 기온","d":178,"t":22.1},{"c":3,"s":"평년 기온","d":180.7,"t":22.4},{"c":3,"s":"평년 기온","d":183.4,"t":22.9},{"c":3,"s":"평년 기온","d":186,"t":23.2},{"c":3,"s":"평년 기온","d":188.8,"t":23.5},{"c":3,"s":"평년 기온","d":191.5,"t":23.5},{"c":3,"s":"평년 기온","d":194.2,"t":23.8},{"c":3,"s":"평년 기온","d":196.9,"t":24},{"c":3,"s":"평년 기온","d":199.6,"t":24.3},{"c":3,"s":"평년 기온","d":202.3,"t":24.6},{"c":3,"s":"평년 기온","d":205,"t":24.9},{"c":3,"s":"평년 기온","d":207.7,"t":25.4},{"c":3,"s":"평년 기온","d":210.4,"t":26},{"c":3,"s":"평년 기온","d":213,"t":25.4},{"c":3,"s":"평년 기온","d":215.8,"t":25.2},{"c":3,"s":"평년 기온","d":218.5,"t":25.4},{"c":3,"s":"평년 기온","d":221.2,"t":25.4},{"c":3,"s":"평년 기온","d":223.9,"t":24.9},{"c":3,"s":"평년 기온","d":226.6,"t":24.9},{"c":3,"s":"평년 기온","d":229.3,"t":24.9},{"c":3,"s":"평년 기온","d":232,"t":24.6},{"c":3,"s":"평년 기온","d":234.7,"t":24},{"c":3,"s":"평년 기온","d":237.4,"t":23.5},{"c":3,"s":"평년 기온","d":240,"t":22.9},{"c":3,"s":"평년 기온","d":242.8,"t":22.7},{"c":3,"s":"평년 기온","d":245.5,"t":22.4},{"c":3,"s":"평년 기온","d":248,"t":21.5},{"c":3,"s":"평년 기온","d":251,"t":20.7},{"c":3,"s":"평년 기온","d":253.6,"t":20.4},{"c":3,"s":"평년 기온","d":256.4,"t":20.1},{"c":3,"s":"평년 기온","d":259,"t":19.6},{"c":3,"s":"평년 기온","d":261.8,"t":19.3},{"c":3,"s":"평년 기온","d":264.5,"t":19},{"c":3,"s":"평년 기온","d":266.5,"t":17.6},{"c":3,"s":"평년 기온","d":268.5,"t":17.3},{"c":3,"s":"평년 기온","d":270,"t":17.3}
]},
"vconcat":[
{"width":666,"height":299,"title":{"text":"안주","dx":-164,"dy":41},"data":{"name":"t"},"transform":[{"filter":"datum.c===1"}],"mark":{"type":"line","strokeJoin":"round"},
"encoding":{
"x":{"field":"d","type":"quantitative","scale":{"domain":[0,270],"nice":false,"zero":false},"axis":{"values":[0,30,60,90,120,150,180,210,240,270],"labelExpr":"datum.value<270?(datum.value/30+1)+'월':''","title":null}},
"y":{"field":"t","type":"quantitative","scale":{"domain":[-15,35],"nice":false,"zero":false},"axis":{"values":[-15,-10,-5,0,5,10,15,20,25,30,35],"title":"기온(℃)"}},
"color":{"field":"s","type":"nominal","scale":{"range":["#1a1a1a","#000000"]},"title":" ","legend":{"labelExpr":"datum.label=='평년 기온'?datum.label+'\u00a0\u00a0\u00a0\u00a0\u00a0\u00a0\u00a0\u00a0\u00a0\u00a0\u00a0\u00a0\u200b':datum.label"}},
"strokeWidth":{"field":"s","type":"nominal","scale":{"range":[1.1,3.8]},"title":" "}}},
{"width":666,"height":299,"title":{"text":"평양","dx":-164,"dy":53},"data":{"name":"t"},"transform":[{"filter":"datum.c===2"}],"mark":{"type":"line","strokeJoin":"round"},
"encoding":{
"x":{"field":"d","type":"quantitative","scale":{"domain":[0,270],"nice":false,"zero":false},"axis":{"values":[0,30,60,90,120,150,180,210,240,270],"labelExpr":"datum.value<270?(datum.value/30+1)+'월':''","title":null}},
"y":{"field":"t","type":"quantitative","scale":{"domain":[-15,35],"nice":false,"zero":false},"axis":{"values":[-15,-10,-5,0,5,10,15,20,25,30,35],"title":"기온(℃)"}},
"color":{"field":"s","type":"nominal","scale":{"range":["#1a1a1a","#000000"]},"title":" ","legend":{"labelExpr":"datum.label=='평년 기온'?datum.label+'\u00a0\u00a0\u00a0\u00a0\u00a0\u00a0\u00a0\u00a0\u00a0\u00a0\u00a0\u00a0\u200b':datum.label"}},
"strokeWidth":{"field":"s","type":"nominal","scale":{"range":[1.1,3.8]},"title":" "}}},
{"width":666,"height":299,"title":{"text":"해주","dx":-164,"dy":47},"data":{"name":"t"},"transform":[{"filter":"datum.c===3"}],"mark":{"type":"line","strokeJoin":"round"},
"encoding":{
"x":{"field":"d","type":"quantitative","scale":{"domain":[0,270],"nice":false,"zero":false},"axis":{"values":[0,30,60,90,120,150,180,210,240,270],"labelExpr":"datum.value<270?(datum.value/30+1)+'월':''","title":null}},
"y":{"field":"t","type":"quantitative","scale":{"domain":[-15,35],"nice":false,"zero":false},"axis":{"values":[-15,-10,-5,0,5,10,15,20,25,30,35],"title":"기온(℃)"}},
"color":{"field":"s","type":"nominal","scale":{"range":["#1a1a1a","#000000"]},"title":" ","legend":{"labelExpr":"datum.label=='평년 기온'?datum.label+'\u00a0\u00a0\u00a0\u00a0\u00a0\u00a0\u00a0\u00a0\u00a0\u00a0\u00a0\u00a0\u200b':datum.label"}},
"strokeWidth":{"field":"s","type":"nominal","scale":{"range":[1.1,3.8]},"title":" "}}}
],
"config":{
"font":"Noto Sans CJK KR",
"view":{"stroke":"#666666","strokeWidth":1.5,"fill":null},
"title":{"anchor":"start","frame":"group","fontSize":40,"fontWeight":"normal","color":"#111111","font":"Noto Sans CJK KR","offset":0},
"axis":{"domain":false,"ticks":false,"grid":true,"gridColor":"#6e6e6e","gridDash":[6,4],"gridWidth":1,"labelFont":"Noto Sans CJK KR","labelFontSize":16,"labelColor":"#333333","titleFont":"Noto Sans CJK KR","titleFontSize":19,"titleFontWeight":"normal","titleColor":"#222222"},
"axisX":{"labelPadding":13,"labelFlush":false},
"axisY":{"labelPadding":11,"titleAngle":0,"titleAlign":"left","titleBaseline":"alphabetic","titleX":-44,"titleY":-17},
"legend":{"orient":"none","legendX":152,"legendY":1226,"direction":"horizontal","symbolType":"stroke","symbolSize":1700,"labelFont":"Noto Sans CJK KR","labelFontSize":16,"labelColor":"#222222","labelOffset":8,"columnPadding":64,"padding":4,"strokeColor":"#777777","fillColor":"#dcdcdc","titleOrient":"left","titlePadding":23,"titleFontSize":16}
}
}
